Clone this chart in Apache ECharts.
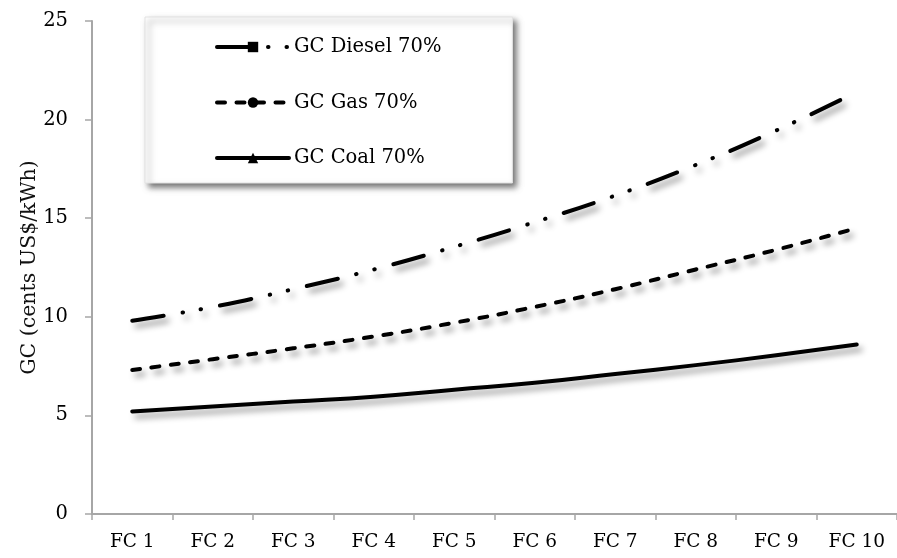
<!DOCTYPE html>
<html>
<head>
<meta charset="utf-8">
<title>GC by fuel cost scenario</title>
<script src="https://cdn.jsdelivr.net/npm/echarts@6/dist/echarts.min.js"></script>
<style>
  html, body { margin: 0; padding: 0; background: #fff; }
  #chart { width: 897px; height: 558px; }
</style>
</head>
<body>
<div id="chart"></div>
<script>
// Fuel-cost scenarios on the category axis
const categories = ['FC 1', 'FC 2', 'FC 3', 'FC 4', 'FC 5', 'FC 6', 'FC 7', 'FC 8', 'FC 9', 'FC 10'];

// Generation cost (cents US$/kWh) at 70% capacity factor
const dieselValues = [9.8, 10.5, 11.4, 12.4, 13.55, 14.8, 16.15, 17.7, 19.45, 21.4];
const gasValues    = [7.3, 7.85, 8.4, 9.0, 9.7, 10.5, 11.4, 12.4, 13.4, 14.5];
const coalValues   = [5.2, 5.45, 5.7, 5.95, 6.3, 6.65, 7.1, 7.55, 8.05, 8.6];

const seriesNames = ['GC Diesel 70%', 'GC Gas 70%', 'GC Coal 70%'];
const yTicks = { min: 0, max: 25, interval: 5 };

const serifFont = '"DejaVu Serif", "Liberation Serif", serif';
const axisGrey = '#a6a6a6';

const lineShadow = {
  shadowColor: 'rgba(0,0,0,0.42)',
  shadowBlur: 6,
  shadowOffsetX: 4,
  shadowOffsetY: 5
};

function makeSeries(name, values, symbol, dashType) {
  return {
    name: name,
    type: 'line',
    data: values,
    smooth: true,
    symbol: symbol,
    showSymbol: false,
    silent: true,
    itemStyle: { color: '#000' },
    lineStyle: Object.assign({
      color: '#000',
      width: 4,
      type: dashType,
      cap: 'round',
      join: 'round'
    }, lineShadow)
  };
}

const chart = echarts.init(document.getElementById('chart'), null, { renderer: 'canvas' });

chart.setOption({
  animation: false,
  backgroundColor: '#fff',
  grid: { left: 92, top: 21, width: 811, height: 493, containLabel: false },
  legend: {
    data: seriesNames,
    orient: 'vertical',
    left: 145,
    top: 17,
    padding: [18, 71, 13, 70],
    itemWidth: 72,
    itemHeight: 13,
    itemGap: 31.5,
    backgroundColor: '#fff',
    borderColor: '#e2e2e2',
    borderWidth: 1,
    shadowColor: 'rgba(0,0,0,0.55)',
    shadowBlur: 6,
    shadowOffsetX: 4,
    shadowOffsetY: 4,
    selectedMode: false,
    lineStyle: { width: 4, shadowBlur: 0, shadowColor: 'rgba(0,0,0,0)', shadowOffsetX: 0, shadowOffsetY: 0 },
    textStyle: { fontFamily: serifFont, fontSize: 19.5, color: '#000', lineHeight: 24 }
  },
  xAxis: {
    type: 'category',
    data: categories,
    boundaryGap: true,
    axisLine: { lineStyle: { color: axisGrey, width: 2 } },
    axisTick: { show: true, length: 6, alignWithLabel: false, lineStyle: { color: axisGrey, width: 1.5 } },
    axisLabel: { fontFamily: serifFont, fontSize: 18.5, color: '#000', margin: 19, interval: 0 },
    splitLine: { show: false }
  },
  yAxis: {
    type: 'value',
    min: yTicks.min,
    max: yTicks.max,
    interval: yTicks.interval,
    name: 'GC (cents US$/kWh)',
    nameLocation: 'middle',
    nameGap: 52,
    nameMoveOverlap: false,
    nameTextStyle: { fontFamily: serifFont, fontSize: 20.5, color: '#111' },
    axisLine: { show: true, lineStyle: { color: axisGrey, width: 2 } },
    axisTick: { show: true, length: 7, lineStyle: { color: axisGrey, width: 1.5 } },
    axisLabel: { fontFamily: serifFont, fontSize: 19.5, color: '#000', margin: 24 },
    splitLine: { show: false }
  },
  series: [
    makeSeries(seriesNames[0], dieselValues, 'rect', [32, 19, 0.5, 18, 0.5, 19]),
    makeSeries(seriesNames[1], gasValues, 'circle', [8, 11.5]),
    makeSeries(seriesNames[2], coalValues, 'triangle', 'solid')
  ]
});
</script>
</body>
</html>
